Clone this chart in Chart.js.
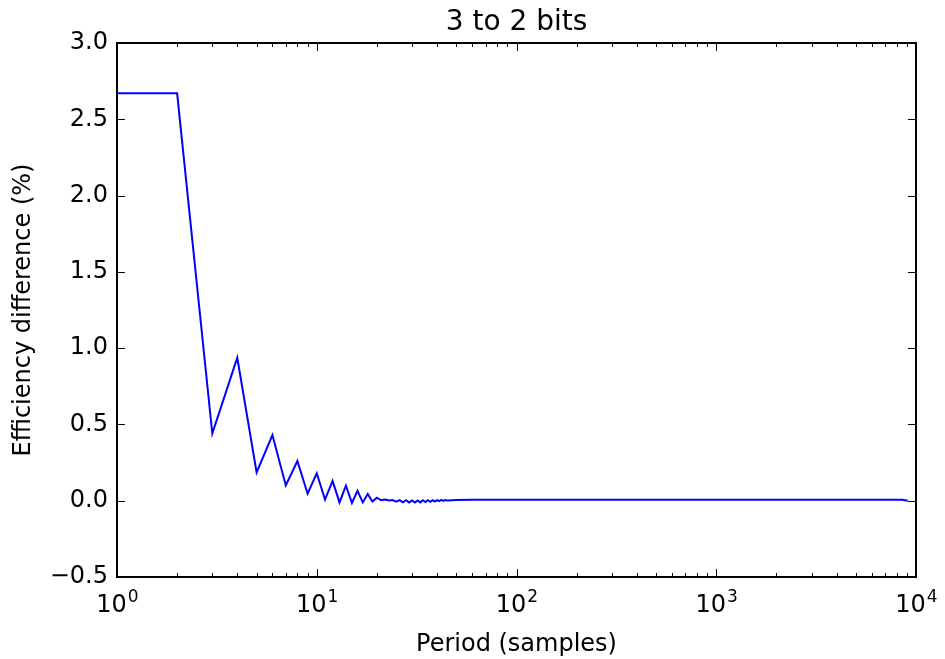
<!DOCTYPE html>
<html>
<head>
<meta charset="utf-8">
<title>3 to 2 bits</title>
<script src="https://cdn.jsdelivr.net/npm/chart.js@4/dist/chart.umd.min.js"></script>
<style>
    html, body { margin: 0; padding: 0; background: #fff; }
    #wrap { width: 945px; height: 659px; }
</style>
</head>
<body>
<div id="wrap"><canvas id="efficiencyChart" width="945" height="659"></canvas></div>
<script>
// Period (samples) and efficiency difference (%)
const periods = [
    1, 2, 3, 4, 5, 6, 7, 8, 9, 10,
    11, 12, 13, 14, 15, 16, 17, 18, 19, 20,
    21, 22, 23, 24, 25, 26, 27, 28, 29, 30,
    31, 32, 33, 34, 35, 36, 37, 38, 39, 40,
    41, 42, 43, 44, 45, 50, 60, 80, 100, 200,
    500, 1000, 2000, 5000, 8500, 9100
];
const efficiencyDiff = [
    2.67, 2.67, 0.44, 0.937, 0.185, 0.43, 0.10, 0.26, 0.046, 0.18,
    0.007, 0.13, -0.011, 0.098, -0.015, 0.065, -0.011, 0.044, -0.005, 0.02,
    0.003, 0.008, 0.001, 0.004, -0.006, 0.004, -0.01, 0.003, -0.012, 0.002,
    -0.012, 0.002, -0.011, 0.003, -0.009, 0.003, -0.007, 0.004, -0.005, 0.004,
    -0.003, 0.005, -0.001, 0.005, 0.002, 0.005, 0.007, 0.007, 0.007, 0.007,
    0.007, 0.007, 0.007, 0.007, 0.007, 0.0
];

const yTicks = [-0.5, 0, 0.5, 1.0, 1.5, 2.0, 2.5, 3.0];
const xMajorTicks = [1, 10, 100, 1000, 10000];
const xMinorTicks = [];
for (let d = 1; d < 10000; d *= 10) {
    for (let m = 2; m <= 9; m++) xMinorTicks.push(d * m);
}

const chartTitle = '3 to 2 bits';
const FONT = 'DejaVu Sans';

// frame, inward tick marks on all four sides, 10^n labels and the title
const frameTicks = {
    id: 'frameTicks',
    afterDatasetsDraw(chart) {
        const ctx = chart.ctx;
        const a = chart.chartArea;
        const xs = chart.scales.x;
        const ys = chart.scales.y;
        ctx.save();
        ctx.strokeStyle = '#000';
        ctx.lineWidth = 1;
        ctx.beginPath();
        xMajorTicks.concat(xMinorTicks).forEach(v => {
            const px = Math.round(xs.getPixelForValue(v)) + 0.5;
            const len = xMajorTicks.includes(v) ? 8 : 4;
            ctx.moveTo(px, a.bottom); ctx.lineTo(px, a.bottom - len);
            ctx.moveTo(px, a.top); ctx.lineTo(px, a.top + len);
        });
        yTicks.forEach(v => {
            const py = Math.round(ys.getPixelForValue(v)) + 0.5;
            ctx.moveTo(a.left, py); ctx.lineTo(a.left + 8, py);
            ctx.moveTo(a.right, py); ctx.lineTo(a.right - 8, py);
        });
        ctx.stroke();
        ctx.lineWidth = 2;
        ctx.strokeRect(a.left, a.top, a.right - a.left, a.bottom - a.top);

        // x labels: base 10 with a raised, smaller exponent
        ctx.fillStyle = '#000';
        ctx.textBaseline = 'alphabetic';
        ctx.textAlign = 'left';
        xMajorTicks.forEach(v => {
            const exp = String(Math.round(Math.log10(v)));
            ctx.font = '24px "' + FONT + '"';
            const wBase = ctx.measureText('10').width;
            ctx.font = '17px "' + FONT + '"';
            const wExp = ctx.measureText(exp).width;
            const left = xs.getPixelForValue(v) - (wBase + wExp) / 2;
            ctx.font = '24px "' + FONT + '"';
            ctx.fillText('10', left, a.bottom + 35);
            ctx.font = '17px "' + FONT + '"';
            ctx.fillText(exp, left + wBase + 1, a.bottom + 25);
        });

        // title centred over the plot area
        ctx.font = '28px "' + FONT + '"';
        ctx.textAlign = 'center';
        ctx.fillText(chartTitle, (a.left + a.right) / 2, 30);
        ctx.restore();
    }
};

const ctx = document.getElementById('efficiencyChart').getContext('2d');
new Chart(ctx, {
    type: 'scatter',
    data: {
        datasets: [{
            label: 'Efficiency difference',
            data: periods.map((p, i) => ({ x: p, y: efficiencyDiff[i] })),
            showLine: true,
            borderColor: '#0000ff',
            borderWidth: 2,
            pointRadius: 0,
            tension: 0,
            clip: false
        }]
    },
    options: {
        responsive: false,
        animation: false,
        devicePixelRatio: 1,
        layout: { padding: { top: 43, right: 29, bottom: 0, left: 0 } },
        plugins: {
            legend: { display: false },
            tooltip: { enabled: false },
            title: { display: false }
        },
        scales: {
            x: {
                type: 'logarithmic',
                min: 1,
                max: 10000,
                afterBuildTicks: scale => {
                    scale.ticks = xMajorTicks.map(v => ({ value: v }));
                },
                afterFit: scale => { scale.height = 82; },
                grid: { display: false, drawTicks: false },
                border: { display: false },
                ticks: { display: false },
                title: {
                    display: true,
                    text: 'Period (samples)',
                    color: '#000',
                    font: { family: FONT, size: 24 },
                    padding: { top: 4, bottom: 0 }
                }
            },
            y: {
                min: -0.5,
                max: 3.0,
                afterBuildTicks: scale => {
                    scale.ticks = yTicks.map(v => ({ value: v }));
                },
                afterFit: scale => { scale.width = 117; },
                grid: { display: false, drawTicks: false },
                border: { display: false },
                ticks: {
                    color: '#000',
                    padding: 9,
                    font: { family: FONT, size: 24 },
                    callback: v => (v < 0 ? '\u2212' : '') + Math.abs(v).toFixed(1)
                },
                title: {
                    display: true,
                    text: 'Efficiency difference (%)',
                    color: '#000',
                    font: { family: FONT, size: 24 },
                    padding: { top: 9, bottom: 0 }
                }
            }
        }
    },
    plugins: [frameTicks]
});
</script>
</body>
</html>
